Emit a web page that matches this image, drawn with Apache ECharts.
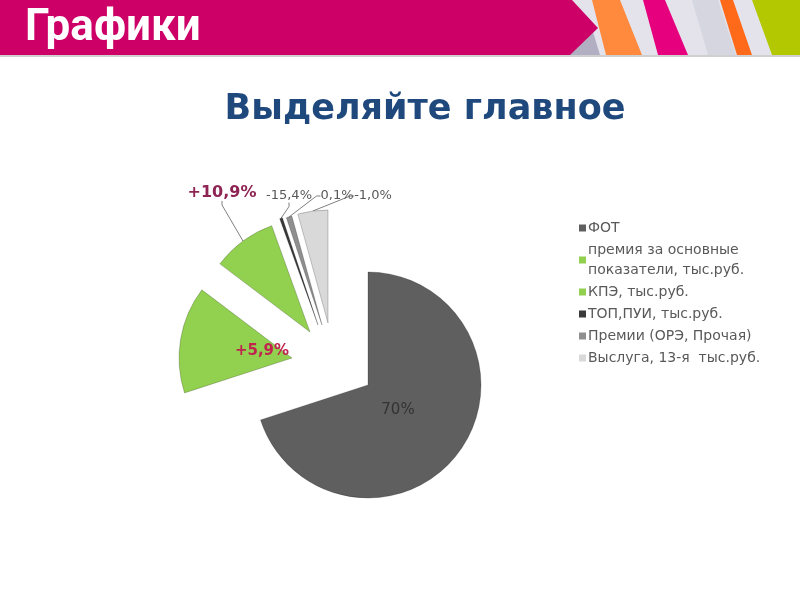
<!DOCTYPE html>
<html><head><meta charset="utf-8">
<script src="https://cdn.jsdelivr.net/npm/echarts@6/dist/echarts.min.js"></script>
<style>html,body{margin:0;padding:0;background:#fff}#c{width:800px;height:600px}</style>
</head><body><div id="c"></div>
<script>
// ---- data ----
const categories = ['ФОТ', 'премия за основные показатели, тыс.руб.', 'КПЭ, тыс.руб.', 'ТОП,ПУИ, тыс.руб.', 'Премии (ОРЭ, Прочая)', 'Выслуга, 13-я  тыс.руб.'];
const shares = [70, 15.3, 9.2, 0.4, 0.8, 4.3];
const sliceLabels = ['70%', '+5,9%', '+10,9%', '-15,4%', '0,1%', '-1,0%'];

// ---- layout / styles ----
const sliceColors = ['#5f5f5f', '#92d050', '#92d050', '#3a3a3a', '#8f8f8f', '#d9d9d9'];
// each slice is drawn with its own (exploded) centre
const sliceCenters = [[368, 385], [292, 358], [310, 332], [318, 325], [322, 325], [328, 323]];
const labelPos = [[398, 410], [262, 351], [222, 193], [289, 196], [337, 196], [373, 196]];
const labelStyles = [
  {position: 'inside', color: '#333333', fontSize: 15, fontWeight: 'normal'},
  {position: 'inside', color: '#c0244f', fontSize: 15, fontWeight: 'bold'},
  {position: 'outside', color: '#8e2453', fontSize: 16, fontWeight: 'bold'},
  {position: 'outside', color: '#595959', fontSize: 13, fontWeight: 'normal'},
  {position: 'outside', color: '#595959', fontSize: 13, fontWeight: 'normal'},
  {position: 'outside', color: '#595959', fontSize: 13, fontWeight: 'normal'}
];

const chart = echarts.init(document.getElementById('c'), null, {renderer: 'canvas'});

const series = categories.map((_, s) => ({
  type: 'pie',
  center: sliceCenters[s],
  radius: 113,
  startAngle: 90,
  clockwise: true,
  avoidLabelOverlap: false,
  silent: true,
  emphasis: {disabled: true},
  z: s === 0 ? 2 : 3,
  labelLayout: function (p) {
    if (p.dataIndex !== s) return {};
    const pos = labelPos[s];
    return {x: pos[0], y: pos[1], align: 'center', verticalAlign: 'middle'};
  },
  data: categories.map((n, i) => i === s ? {
    name: n,
    value: shares[i],
    itemStyle: {color: sliceColors[i], borderColor: 'rgba(0,0,0,0.35)', borderWidth: 0.6},
    label: Object.assign({show: true, formatter: sliceLabels[i], fontFamily: 'DejaVu Sans'}, labelStyles[i]),
    labelLine: {show: labelStyles[i].position === 'outside', length: 8, length2: 4, smooth: false, lineStyle: {color: '#7f7f7f', width: 1}}
  } : {
    name: n,
    value: shares[i],
    itemStyle: {color: 'rgba(0,0,0,0)', borderWidth: 0},
    label: {show: false},
    labelLine: {show: false}
  })
}));

chart.setOption({
  animation: false,
  title: [
    {text: 'Графики', left: 20, top: 2, textStyle: {color: '#fff', fontSize: 44, fontWeight: 'bold', fontFamily: 'Liberation Sans Narrow, Roboto, sans-serif'}},
    {text: 'Выделяйте главное', left: 420, textAlign: 'center', top: 87, textStyle: {color: '#1f497d', fontSize: 35, fontWeight: 'bold', fontFamily: 'DejaVu Sans'}}
  ],
  graphic: [
    {type: 'rect', z: -10, shape: {x: 0, y: 0, width: 800, height: 55}, style: {fill: '#cc0066'}},
    {type: 'rect', z: -9, shape: {x: 565, y: 0, width: 235, height: 55}, style: {fill: '#e4e3ec'}},
    {type: 'polygon', z: -8, shape: {points: [[566, 55], [600, 55], [590, 22]]}, style: {fill: '#b3afc3'}},
    {type: 'polygon', z: -8, shape: {points: [[592, 0], [620, 0], [642, 55], [606, 55]]}, style: {fill: '#ff8a3d'}},
    {type: 'polygon', z: -8, shape: {points: [[643, 0], [665, 0], [688, 55], [658, 55]]}, style: {fill: '#e6007e'}},
    {type: 'polygon', z: -8, shape: {points: [[692, 0], [718, 0], [736, 55], [708, 55]]}, style: {fill: '#d6d6e0'}},
    {type: 'polygon', z: -8, shape: {points: [[720, 0], [733, 0], [752, 55], [737, 55]]}, style: {fill: '#ff6a1a'}},
    {type: 'polygon', z: -8, shape: {points: [[752, 0], [800, 0], [800, 55], [772, 55]]}, style: {fill: '#b3c800'}},
    {type: 'polygon', z: -7, shape: {points: [[0, 0], [572, 0], [598, 28], [570, 55], [0, 55]]}, style: {fill: '#cc0066'}},
    {type: 'rect', z: -7, shape: {x: 0, y: 55, width: 800, height: 2}, style: {fill: '#d0d0d0'}}
  ],
  legend: {
    orient: 'vertical', left: 574, top: 213,
    itemWidth: 7, itemHeight: 7, itemGap: 2, icon: 'rect',
    data: categories.map((n, i) => ({name: n, itemStyle: {color: sliceColors[i], borderWidth: 0}})),
    formatter: n => n === categories[1] ? 'премия за основные\nпоказатели, тыс.руб.' : n,
    textStyle: {color: '#595959', fontSize: 14, lineHeight: 20, fontFamily: 'DejaVu Sans', padding: [0, 0, 0, -3]},
    selectedMode: false
  },
  series: series
});
</script></body></html>
